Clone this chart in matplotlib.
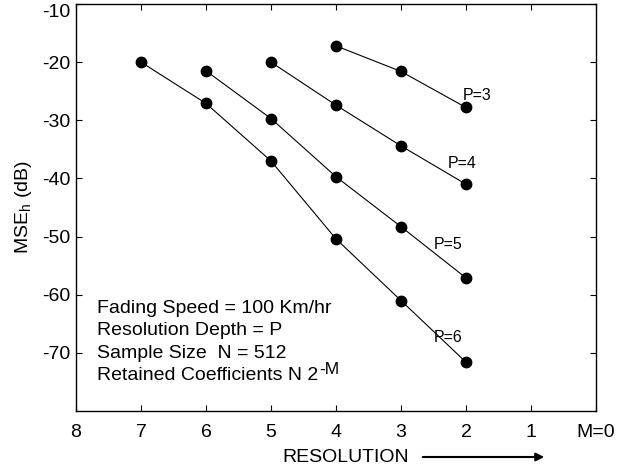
import matplotlib
matplotlib.use("Agg")
import matplotlib.pyplot as plt

plt.rcParams['font.family'] = ['Liberation Sans', 'DejaVu Sans']
plt.rcParams['mathtext.fontset'] = 'custom'
plt.rcParams['mathtext.rm'] = 'Liberation Sans'
plt.rcParams['axes.unicode_minus'] = False

# resolution M on the x axis, MSE in dB for each resolution depth P
m_p3 = [4, 3, 2]
mse_p3 = [-17.2, -21.6, -27.8]
m_p4 = [5, 4, 3, 2]
mse_p4 = [-20.0, -27.4, -34.4, -41.0]
m_p5 = [6, 5, 4, 3, 2]
mse_p5 = [-21.5, -29.7, -39.7, -48.3, -57.1]
m_p6 = [7, 6, 5, 4, 3, 2]
mse_p6 = [-20.0, -27.1, -37.0, -50.4, -61.0, -71.6]

series = [(m_p3, mse_p3), (m_p4, mse_p4), (m_p5, mse_p5), (m_p6, mse_p6)]
curve_labels = ['P=3', 'P=4', 'P=5', 'P=6']
label_pos = [(1.83, -25.8), (2.06, -37.5), (2.28, -51.3), (2.28, -67.3)]

x_ticks = [8, 7, 6, 5, 4, 3, 2, 1, 0]
x_ticklabels = ['8', '7', '6', '5', '4', '3', '2', '1', 'M=0']
y_ticks = [-70, -60, -50, -40, -30, -20, -10]

notes = ['Fading Speed = 100 Km/hr',
         'Resolution Depth = P',
         'Sample Size  N = 512',
         'Retained Coefficients N 2']

fig = plt.figure(figsize=(6.19, 4.70), dpi=100)
ax = fig.add_axes([0.1228, 0.1255, 0.840, 0.866])

for (m, mse) in series:
    ax.plot(m, mse, 'k-', lw=0.8, marker='o', ms=7.5, mfc='k', mec='k')

for lab, (x, y) in zip(curve_labels, label_pos):
    ax.text(x, y, lab, fontsize=11.5, ha='center', va='center')

note_texts = []
for i, line in enumerate(notes):
    t = ax.text(7.68, -62.3 - i * 3.87, line, fontsize=14, ha='left', va='center')
    note_texts.append(t)

# exponent of the last note line, drawn as its own text
ax.annotate('-M', xy=(1.0, 0.85), xycoords=note_texts[-1], fontsize=12.5,
            ha='left', va='center', xytext=(1, 0), textcoords='offset points')

ax.set_xlim(8, 0)
ax.set_ylim(-80, -10)
ax.set_xticks(x_ticks)
ax.set_xticklabels(x_ticklabels)
ax.set_yticks(y_ticks)
ax.tick_params(direction='in', top=True, right=True, labelsize=14, length=4)
ax.tick_params(axis='x', pad=9)
ax.tick_params(axis='y', pad=4)
ax.get_yticklabels()[-1].set_va('top')
for s in ax.spines.values():
    s.set_linewidth(1.0)

ax.set_ylabel(r'MSE$_{\mathregular{h}}$ (dB)', fontsize=14, labelpad=6)
fig.text(346 / 619, 1 - 457 / 470, 'RESOLUTION', fontsize=14, ha='center', va='center')
ax.annotate('', xy=(547 / 619, 1 - 457 / 470), xytext=(420 / 619, 1 - 457 / 470),
            xycoords='figure fraction', textcoords='figure fraction',
            arrowprops=dict(arrowstyle='-|>', color='k', lw=1.5, mutation_scale=12))

fig.savefig('out.png', dpi=100)
